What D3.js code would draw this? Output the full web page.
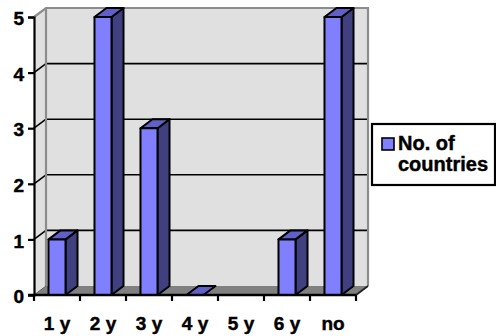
<!DOCTYPE html>
<html>
<head>
<meta charset="utf-8">
<script src="https://cdn.jsdelivr.net/npm/d3@7"></script>
<style>
  html, body { margin: 0; padding: 0; background: #ffffff; }
  svg { display: block; }
</style>
</head>
<body>
<svg id="chart" width="496" height="336"></svg>
<script>
// Years of experience categories and the number of countries in each
const categories = ["1 y", "2 y", "3 y", "4 y", "5 y", "6 y", "no"];
const countries = [1, 5, 3, 0, null, 1, 5];
const yTicks = [0, 1, 2, 3, 4, 5];
const seriesName = ["No. of", "countries"];

const FONT = "'Liberation Sans', Arial, Helvetica, sans-serif";
const svg = d3.select("#chart");

// front plane of the 3-D box
const x = d3.scaleBand().domain(categories).range([34, 356]).padding(0);
const y = d3.scaleLinear().domain([0, 5]).range([295, 17]);
const dx = 12, dy = -9;               // depth offset of the box
const barW = x.step() * 0.37;

const x0 = x.range()[0], x1 = x.range()[1];
const yb = y(0), yt = y(5);
const wallFill = "#e0e0e0", edge = "#8c8c8c";

const poly = pts => pts.map(p => p.join(",")).join(" ");
const boldText = (sel, size) => sel
  .style("font-family", FONT)
  .style("font-weight", "700")
  .style("font-size", (size || 19) + "px")
  .attr("fill", "#000")
  .attr("stroke", "#000")
  .attr("stroke-width", 0.45);

// back wall
svg.append("polygon")
  .attr("points", poly([[x0 + dx, yt + dy], [x1 + dx, yt + dy], [x1 + dx, yb + dy], [x0 + dx, yb + dy]]))
  .attr("fill", wallFill);
// left wall
svg.append("polygon")
  .attr("points", poly([[x0, yt], [x0 + dx, yt + dy], [x0 + dx, yb + dy], [x0, yb]]))
  .attr("fill", wallFill);
// floor
svg.append("polygon")
  .attr("points", poly([[x0, yb], [x1, yb], [x1 + dx, yb + dy], [x0 + dx, yb + dy]]))
  .attr("fill", "#808080");

// gridlines on back and left walls
const grid = svg.append("g");
yTicks.filter(v => v > 0 && v < 5).forEach(v => {
  grid.append("line")
    .attr("x1", x0 + dx).attr("x2", x1 + dx)
    .attr("y1", y(v) + dy).attr("y2", y(v) + dy)
    .attr("stroke", "#000").attr("stroke-width", 1.6);
  grid.append("line")
    .attr("x1", x0).attr("x2", x0 + dx)
    .attr("y1", y(v)).attr("y2", y(v) + dy)
    .attr("stroke", "#000").attr("stroke-width", 1.6);
});

// wall edges
svg.append("polyline")
  .attr("points", poly([[x0, yt], [x0 + dx, yt + dy], [x1 + dx, yt + dy], [x1 + dx, yb + dy]]))
  .attr("fill", "none").attr("stroke", edge).attr("stroke-width", 2.2);
svg.append("line")
  .attr("x1", x0 + dx).attr("x2", x0 + dx)
  .attr("y1", yt + dy).attr("y2", yb + dy)
  .attr("stroke", edge).attr("stroke-width", 2.2);
svg.append("line")
  .attr("x1", x0).attr("x2", x0 + dx)
  .attr("y1", yb).attr("y2", yb + dy)
  .attr("stroke", "#606060").attr("stroke-width", 1);
svg.append("line")
  .attr("x1", x1).attr("x2", x1 + dx)
  .attr("y1", yb).attr("y2", yb + dy)
  .attr("stroke", "#222").attr("stroke-width", 1.8);

// bars
const bars = svg.append("g");
categories.forEach((c, i) => {
  const v = countries[i];
  if (v === null) return;
  const xl = x(c) + (x.step() - barW) / 2, xr = xl + barW, ty = y(v);
  const stroke = g => g.attr("stroke", "#000").attr("stroke-width", 2).attr("stroke-linejoin", "round");
  if (v > 0) {
    bars.append("polygon")
      .attr("points", poly([[xr, ty], [xr + dx, ty + dy], [xr + dx, yb + dy], [xr, yb]]))
      .attr("fill", "#404080").call(stroke);
  }
  bars.append("polygon")
    .attr("points", poly([[xl, ty], [xr, ty], [xr + dx, ty + dy], [xl + dx, ty + dy]]))
    .attr("fill", "#6060c8").call(stroke);
  if (v > 0) {
    bars.append("rect")
      .attr("x", xl).attr("y", ty).attr("width", barW).attr("height", yb - ty)
      .attr("fill", "#8080ff").call(stroke);
  }
});

// value axis
const yAxis = svg.append("g")
  .attr("transform", `translate(${x0},0)`)
  .call(d3.axisLeft(y).tickValues(yTicks).tickFormat(d3.format("d")).tickSize(6).tickPadding(4));
yAxis.select(".domain").attr("stroke", "#000").attr("stroke-width", 2.2);
yAxis.selectAll(".tick line").attr("stroke", "#000").attr("stroke-width", 2.2);
yAxis.selectAll(".tick text").call(boldText, 19).attr("dy", "0.4em");

// category axis: ticks at the slot boundaries, labels centred in each slot
const xAxis = svg.append("g").attr("transform", `translate(0,${yb})`);
xAxis.append("line")
  .attr("x1", x0 - 6).attr("x2", x1)
  .attr("stroke", "#000").attr("stroke-width", 2.4);
const bounds = categories.map(c => x(c)).concat([x1]);
xAxis.selectAll("line.tick").data(bounds).join("line")
  .attr("class", "tick")
  .attr("x1", d => d).attr("x2", d => d)
  .attr("y1", 0).attr("y2", 6)
  .attr("stroke", "#000").attr("stroke-width", 2.2);
xAxis.selectAll("text").data(categories).join("text")
  .attr("x", d => x(d) + x.bandwidth() / 2)
  .attr("y", 35)
  .attr("text-anchor", "middle")
  .call(boldText, 19)
  .text(d => d);

// legend
const lg = svg.append("g");
lg.append("rect")
  .attr("x", 372).attr("y", 124).attr("width", 123).attr("height", 61)
  .attr("fill", "#fff").attr("stroke", "#000").attr("stroke-width", 2.2);
lg.append("rect")
  .attr("x", 382).attr("y", 138).attr("width", 12).attr("height", 12)
  .attr("fill", "#8080ff").attr("stroke", "#000").attr("stroke-width", 1.6);
lg.selectAll("text.name").data(seriesName).join("text")
  .attr("class", "name")
  .attr("x", 398)
  .attr("y", (d, i) => 150 + i * 21)
  .call(boldText, 20)
  .text(d => d);
</script>
</body>
</html>
